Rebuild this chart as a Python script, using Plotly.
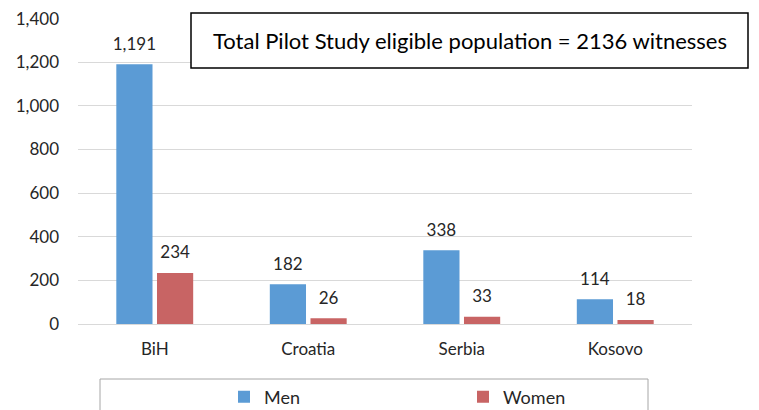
import plotly.graph_objects as go

countries = ["BiH", "Croatia", "Serbia", "Kosovo"]
men = [1191, 182, 338, 114]
women = [234, 26, 33, 18]
y_ticks = [0, 200, 400, 600, 800, 1000, 1200, 1400]
note = "Total Pilot Study eligible population = 2136 witnesses"

FONT = "Lato, 'Open Sans', sans-serif"
MEN_C, WOMEN_C = "#5B9BD5", "#C86464"

# page body has an 8px default margin; work in reference pixel coords and shift
OFF = 8
W, H = 759 - OFF, 410 - OFF
L = 78 - OFF
R = W - (692 - OFF)
T = 18 - OFF
B = H - (324 - OFF)
pw = W - L - R
ph = H - T - B

def px_x(p):
    return (p - OFF - L) / pw

def px_y(p):
    return (H - B - (p - OFF)) / ph

fig = go.Figure()
for name, vals, col in [("Men", men, MEN_C), ("Women", women, WOMEN_C)]:
    fig.add_trace(go.Bar(
        x=countries, y=vals, name=name, marker=dict(color=col, line=dict(width=0)),
    ))
for name, vals in [("Men", men), ("Women", women)]:
    fig.add_trace(go.Scatter(
        x=countries, y=vals, name=name + " labels", mode="markers+text",
        text=[f"{v:,}" for v in vals], textposition="top center",
        marker=dict(size=15, opacity=0), cliponaxis=False, showlegend=False,
        hoverinfo="skip", textfont=dict(size=17, color="#262626", family=FONT),
    ))

fig.add_shape(type="rect", xref="paper", yref="paper",
              x0=px_x(191), x1=px_x(748), y0=px_y(68), y1=px_y(13),
              line=dict(color="black", width=1.5), fillcolor="white", layer="above")
fig.add_annotation(text=note, xref="paper", yref="paper",
                   x=(px_x(191) + px_x(748)) / 2, y=(px_y(68) + px_y(13)) / 2,
                   xanchor="center", yanchor="middle", showarrow=False,
                   font=dict(size=22, color="black", family=FONT))
# legend frame
fig.add_shape(type="rect", xref="paper", yref="paper",
              x0=px_x(100), x1=px_x(648), y0=px_y(440), y1=px_y(379),
              line=dict(color="#A6A6A6", width=1), fillcolor="rgba(0,0,0,0)", layer="above")

fig.update_layout(
    width=W, height=H,
    margin=dict(l=L, r=R, t=T, b=B, autoexpand=False),
    paper_bgcolor="white", plot_bgcolor="white",
    barmode="group", bargap=0.47, bargroupgap=0.11,
    scattermode="group", scattergap=0.47,
    font=dict(family=FONT, size=17, color="#262626"),
    showlegend=True,
    legend=dict(orientation="h", x=px_x(224), y=px_y(397), xanchor="left", yanchor="middle",
                entrywidth=194, entrywidthmode="pixels", bgcolor="rgba(0,0,0,0)",
                font=dict(size=18, family=FONT, color="#262626"), traceorder="normal"),
    xaxis=dict(showline=True, linecolor="#D9D9D9", linewidth=1, ticks="",
               tickfont=dict(size=17), showgrid=False, fixedrange=True, automargin=False,
               ticklabelstandoff=10),
    yaxis=dict(range=[0, 1403], tickvals=y_ticks, ticktext=[f"{v:,}" for v in y_ticks],
               showgrid=True, gridcolor="#D9D9D9", gridwidth=1, zeroline=False,
               showline=False, ticks="", ticklabelstandoff=18, tickfont=dict(size=17),
               automargin=False, ticklabeloverflow="allow"),
)

fig.write_html("out.html")
